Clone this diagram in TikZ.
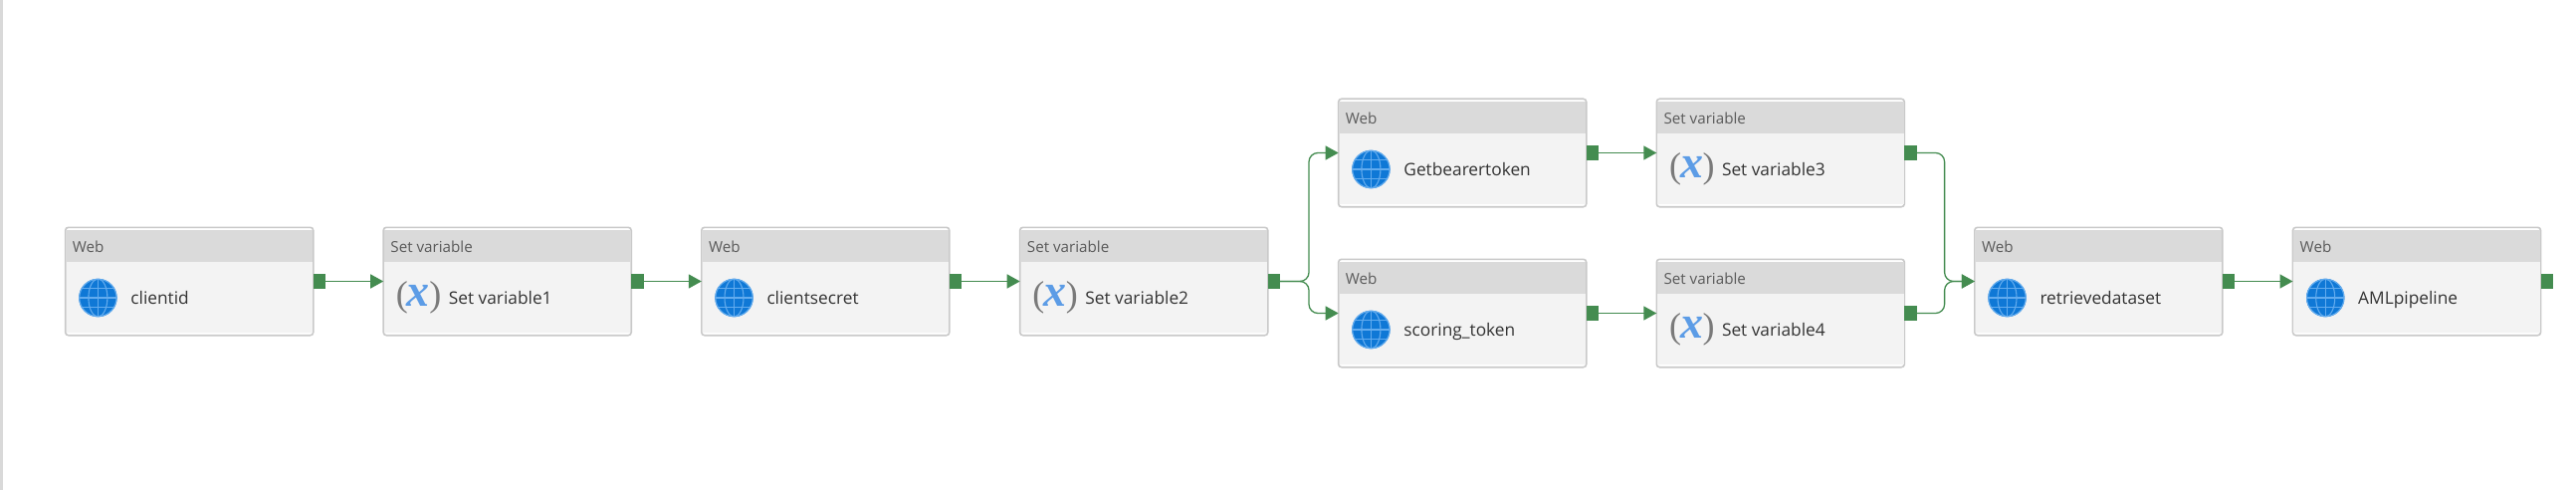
\documentclass[tikz,border=0pt]{standalone}
\usepackage{fontspec}
\setmainfont{Open Sans}
\newfontfamily\iconfont{Liberation Serif}
\usetikzlibrary{arrows.meta}
\definecolor{conn}{HTML}{448C50}
\definecolor{boxline}{HTML}{C9C9C9}
\definecolor{bodyfill}{HTML}{F3F3F3}
\definecolor{headfill}{HTML}{DADADA}
\definecolor{titletext}{HTML}{5A5A5A}
\definecolor{bodytext}{HTML}{333333}
\definecolor{globefill}{HTML}{0F78D6}
\definecolor{globeline}{HTML}{62ABEE}
\definecolor{varblue}{HTML}{5C9CE6}
\definecolor{vargray}{HTML}{7A7A7A}
\tikzset{
  x=1pt,y=-1pt,
  boxnode/.style={draw=boxline,line width=1.6pt,fill=white,rounded corners=3pt,minimum width=249pt,minimum height=108.4pt,inner sep=0pt,outer sep=0pt,anchor=north west},
  portnode/.style={fill=conn,minimum width=12.5pt,minimum height=15.5pt,inner sep=0pt,outer sep=0pt,anchor=west},
  titlenode/.style={anchor=base west,inner sep=0pt,text=titletext,font=\fontsize{15.2}{16}\selectfont},
  labelnode/.style={anchor=base west,inner sep=0pt,text=bodytext,font=\fontsize{17.3}{18}\selectfont},
  varnode/.style={anchor=base west,inner sep=0pt},
  link/.style={draw=conn,line width=1.5pt,-{Triangle[length=13pt,width=14pt]}},
  elbow/.style={link,line width=1.3pt,rounded corners=9pt},
  glline/.style={draw=globeline,line width=1.1pt},
}
\newcommand\activityshell[5]{% name, x, y top, title, label
  \node[boxnode] (#1) at (#2,#3) {};
  \fill[bodyfill] (#2+0.8,#3+30) rectangle (#2+248.2,#3+105.8);
  \fill[headfill] (#2+0.8,#3+2.6) rectangle (#2+248.2,#3+34.6);
  \node[titlenode] (#1t) at (#2+7,#3+25.5) {#4};
  \node[labelnode] (#1l) at (#2+65.5,#3+77.5) {#5};
  \node[portnode] (p#1) at (#1.east) {};
}
\newcommand\webact[4]{% name, x, y top, label
  \activityshell{#1}{#2}{#3}{Web}{#4}
  \begin{scope}[shift={(#2+32.7,#3+70.7)}]
    \fill[globefill] (0,0) circle (19.2);
    \begin{scope}
      \clip (0,0) circle (19.2);
      \draw[glline] (0,0) ellipse (9.5 and 19);
      \draw[glline] (0,-19) -- (0,19);
      \draw[glline] (-19,0) -- (19,0);
      \draw[glline] (-19,-9.5) -- (19,-9.5);
      \draw[glline] (-19,9.5) -- (19,9.5);
    \end{scope}
    \draw[glline] (0,0) circle (18.7);
  \end{scope}
}
\newcommand\setact[4]{% name, x, y top, label
  \activityshell{#1}{#2}{#3}{Set variable}{#4}
  \node[varnode] (#1i) at (#2+12.5,#3+79) {\iconfont\fontsize{36}{36}\selectfont\textcolor{vargray}{(}\kern-1pt\fontsize{46}{46}\selectfont\textcolor{varblue}{\bfseries\itshape x}\kern-0.5pt\fontsize{36}{36}\selectfont\textcolor{vargray}{)}};
}
\begin{document}
\begin{tikzpicture}
  \useasboundingbox (0,0) rectangle (2588,492);
  \fill[white] (0,0) rectangle (2588,492);
  \fill[black!15] (0,0) rectangle (2.6,492);
  \webact{a}{65.7}{228.3}{clientid}
  \setact{b}{385.2}{228.3}{Set variable1}
  \webact{c}{704.8}{228.3}{clientsecret}
  \setact{d}{1024.7}{228.3}{Set variable2}
  \webact{e}{1344.7}{99.3}{Getbearertoken}
  \setact{f}{1664.3}{99.3}{Set variable3}
  \webact{g}{1344.7}{260.3}{scoring\_token}
  \setact{h}{1664.3}{260.3}{Set variable4}
  \webact{i}{1983.8}{228.3}{retrievedataset}
  \webact{j}{2303.5}{228.3}{AMLpipeline}
  \draw[link] (pa) -- (b);
  \draw[link] (pb) -- (c);
  \draw[link] (pc) -- (d);
  \draw[link] (pe) -- (f);
  \draw[link] (pg) -- (h);
  \draw[link] (pi) -- (j);
  \coordinate (split) at (1315,282.5);
  \coordinate (merge) at (1953.6,282.5);
  \draw[elbow] (pd.east) -- (split) -- (split |- e.west) -- (e.west);
  \draw[elbow] (pd.east) -- (split) -- (split |- g.west) -- (g.west);
  \draw[elbow] (pf.east) -- (merge |- pf.east) -- (merge) -- (i.west);
  \draw[elbow] (ph.east) -- (merge |- ph.east) -- (merge) -- (i.west);
\end{tikzpicture}
\end{document}
